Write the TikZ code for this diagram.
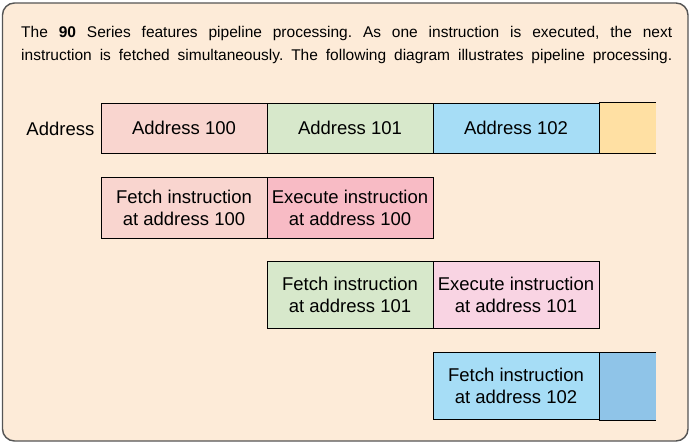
\documentclass[tikz,border=0pt]{standalone}
\usepackage{fontspec}
\setmainfont{Liberation Sans}
\frenchspacing
\definecolor{bg}{HTML}{FDEBD8}
\definecolor{frame}{HTML}{555555}
\definecolor{pinkA}{HTML}{F9D5CF}
\definecolor{greenA}{HTML}{D7E8CB}
\definecolor{blueA}{HTML}{A6DDF6}
\definecolor{orangeA}{HTML}{FFE0A3}
\definecolor{execA}{HTML}{F8BBC5}
\definecolor{execB}{HTML}{F9D4E3}
\definecolor{blueB}{HTML}{8FC4E8}
\tikzset{
  cell/.style={draw=black, line width=0.9pt, inner sep=0pt, align=center,
    font=\fontsize{18.5}{22}\selectfont},
  openbox/.style={inner sep=0pt},
  edge/.style={line width=0.9pt, black},
  para/.style={inner sep=0pt, font=\fontsize{15.5}{21}\selectfont},
}
\begin{document}
\begin{tikzpicture}[x=1pt,y=-1pt]
\useasboundingbox (0,0) rectangle (690,443);
\draw[fill=bg, draw=frame, line width=1.4pt, rounded corners=12pt] (2.5,3) rectangle (688,441);

\node[para, anchor=base west] (l1) at (21,37.7) {\makebox[651pt][s]{The \textbf{90} Series features pipeline processing. As one instruction is executed, the next}};
\node[para, anchor=base west] (l2) at (21,60.7) {\makebox[651pt][s]{instruction is fetched simultaneously. The following diagram illustrates pipeline processing.}};

\node[font=\fontsize{18.5}{22}\selectfont, anchor=base east, inner sep=0pt] (lab) at (94.5,136) {Address};

% row 1
\node[openbox, fill=orangeA, minimum width=57pt, minimum height=50pt] (aor) at (627.5,128) {};
\draw[edge] (aor.north west) -- (aor.north east);
\draw[edge] (aor.south west) -- (aor.south east);
\node[cell, fill=pinkA, minimum width=166pt, minimum height=50pt] (a100) at (184,128) {Address 100};
\node[cell, fill=greenA, minimum width=166pt, minimum height=50pt] (a101) at (350,128) {Address 101};
\node[cell, fill=blueA, minimum width=166pt, minimum height=50pt] (a102) at (516,128) {Address 102};

% row 2
\node[cell, fill=pinkA, minimum width=166pt, minimum height=61pt] (f100) at (184,207.8) {Fetch instruction\\at address 100};
\node[cell, fill=execA, minimum width=166pt, minimum height=61pt] (e100) at (350,207.8) {Execute instruction\\at address 100};

% row 3
\node[cell, fill=greenA, minimum width=166pt, minimum height=67pt] (f101) at (350,295.3) {Fetch instruction\\at address 101};
\node[cell, fill=execB, minimum width=166pt, minimum height=67pt] (e101) at (516,295.3) {Execute instruction\\at address 101};

% row 4
\node[openbox, fill=blueB, minimum width=57pt, minimum height=67pt] (x102) at (627.5,386.3) {};
\draw[edge] (x102.north west) -- (x102.north east);
\draw[edge] (x102.south west) -- (x102.south east);
\node[cell, fill=blueA, minimum width=166pt, minimum height=67pt] (f102) at (516,386.3) {Fetch instruction\\at address 102};
\end{tikzpicture}
\end{document}
